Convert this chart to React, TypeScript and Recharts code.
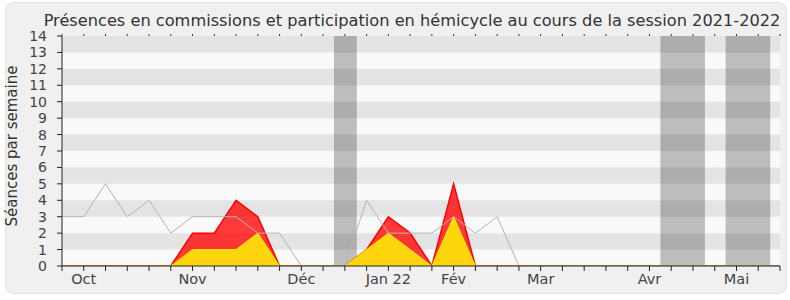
import React from 'react';
import { ComposedChart, Area, Line, XAxis, YAxis, ReferenceArea } from 'recharts';

// 34 weekly points (session 2021-2022)
const weeks = [0, 1, 2, 3, 4, 5, 6, 7, 8, 9, 10, 11, 12, 13, 14, 15, 16, 17, 18, 19, 20, 21, 22, 23, 24, 25, 26, 27, 28, 29, 30, 31, 32, 33];
// grey line: présences en commission
const commission = [3, 3, 5, 3, 4, 2, 3, 3, 3, 2, 2, 0, 0, 0, 4, 2, 2, 2, 3, 2, 3, 0, 0, 0, 0, 0, 0, 0, 0, 0, 0, 0, 0, 0];
// red area: participation totale en hémicycle
const hemicycleTotal = [0, 0, 0, 0, 0, 0, 2, 2, 4, 3, 0, 0, 0, 0, 1, 3, 2, 0, 5, 0, 0, 0, 0, 0, 0, 0, 0, 0, 0, 0, 0, 0, 0, 0];
// yellow area: présences en hémicycle
const hemicyclePresence = [0, 0, 0, 0, 0, 0, 1, 1, 1, 2, 0, 0, 0, 0, 1, 2, 1, 0, 3, 0, 0, 0, 0, 0, 0, 0, 0, 0, 0, 0, 0, 0, 0, 0];

const monthTickWeeks = [1, 6, 11, 15, 18, 22, 27, 31];
const monthLabels = ['Oct', 'Nov', 'Déc', 'Jan 22', 'Fév', 'Mar', 'Avr', 'Mai'];

const yTicks = [0, 1, 2, 3, 4, 5, 6, 7, 8, 9, 10, 11, 12, 13, 14];
const stripeStarts = [1, 3, 5, 7, 9, 11, 13];
const vacationStarts = [12.5, 27.5, 30.5];
const vacationEnds = [13.55, 29.55, 32.55];

const title = 'Présences en commissions et participation en hémicycle au cours de la session 2021-2022';
const yLabel = 'Séances par semaine';

const FONT = "'DejaVu Sans', sans-serif";

const data = weeks.map((w, i) => ({
  w,
  commission: commission[i],
  total: hemicycleTotal[i],
  presence: hemicyclePresence[i],
}));

const formatMonth = (v: number) => {
  const k = monthTickWeeks.indexOf(v);
  return k >= 0 ? monthLabels[k] : '';
};

const YLabel = (props: any) => {
  const vb = props.viewBox || { x: 0, y: 0, width: 0, height: 0 };
  const cx = vb.x + 12;
  const cy = vb.y + vb.height / 2 - 5;
  return (
    <text
      x={cx}
      y={cy}
      transform={`rotate(-90 ${cx} ${cy})`}
      textAnchor="middle"
      dominantBaseline="central"
      fill="#333"
      style={{ fontFamily: FONT, fontSize: 15 }}
    >
      {yLabel}
    </text>
  );
};

export default function App() {
  return (
    <div style={{ position: 'absolute', left: 0, top: 0, width: 790, height: 300, overflow: 'hidden', background: '#fff' }}>
      <div
        style={{
          position: 'absolute',
          left: 5,
          top: 2,
          width: 780,
          height: 290,
          background: '#f0f0f0',
          border: '1px solid #e2e2e2',
          borderRadius: 8,
        }}
      />
      <div
        style={{
          position: 'absolute',
          left: 34,
          top: 11,
          width: 756,
          textAlign: 'center',
          fontFamily: FONT,
          fontSize: 16.2,
          color: '#333',
          lineHeight: '20px',
          whiteSpace: 'nowrap',
        }}
      >
        {title}
      </div>
      <div style={{ position: 'absolute', left: 0, top: 0 }}>
        <ComposedChart width={790} height={300} data={data} margin={{ top: 35, right: 10, left: 0, bottom: 0 }}>
          <XAxis
            xAxisId="top"
            orientation="top"
            dataKey="w"
            type="number"
            domain={[0, 33]}
            ticks={weeks}
            height={1}
            axisLine={false}
            tickSize={2}
            tickLine={{ stroke: '#333' }}
            tick={() => <g />}
            allowDataOverflow
          />
          <XAxis
            dataKey="w"
            type="number"
            domain={[0, 33]}
            ticks={weeks}
            interval={0}
            height={34}
            tickSize={5}
            tickMargin={3}
            tickFormatter={formatMonth}
            axisLine={{ stroke: '#222' }}
            tickLine={{ stroke: '#222' }}
            tick={{ fill: '#444', fontSize: 14.5, fontFamily: FONT }}
            allowDataOverflow
          />
          <YAxis
            type="number"
            domain={[0, 14]}
            ticks={yTicks}
            interval={0}
            width={62}
            tickSize={5}
            tickMargin={10}
            axisLine={{ stroke: '#222' }}
            tickLine={{ stroke: '#222' }}
            tick={{ fill: '#444', fontSize: 14, fontFamily: FONT }}
            label={<YLabel />}
            allowDataOverflow
          />
          <ReferenceArea y1={0} y2={14} fill="#f9f9f9" fillOpacity={1} stroke="none" ifOverflow="hidden" />
          {stripeStarts.map((s) => (
            <ReferenceArea key={'s' + s} y1={s} y2={s + 1} fill="#e4e4e4" fillOpacity={1} stroke="none" ifOverflow="hidden" />
          ))}
          {vacationStarts.map((s, i) => (
            <ReferenceArea key={'v' + s} x1={s} x2={vacationEnds[i]} y1={0} y2={14} fill="#000" fillOpacity={0.24} stroke="none" ifOverflow="hidden" />
          ))}
          <Line
            dataKey="commission"
            type="linear"
            stroke="#b4b4b4"
            strokeWidth={1}
            dot={false}
            activeDot={false}
            isAnimationActive={false}
          />
          <Area
            dataKey="total"
            type="linear"
            stroke="#ff0000"
            strokeWidth={1.5}
            fill="#ff0000"
            fillOpacity={0.77}
            dot={false}
            activeDot={false}
            isAnimationActive={false}
          />
          <Area
            dataKey="presence"
            type="linear"
            stroke="#ffee00"
            strokeWidth={1}
            fill="#ffd60d"
            fillOpacity={1}
            dot={false}
            activeDot={false}
            isAnimationActive={false}
          />
        </ComposedChart>
      </div>
    </div>
  );
}
